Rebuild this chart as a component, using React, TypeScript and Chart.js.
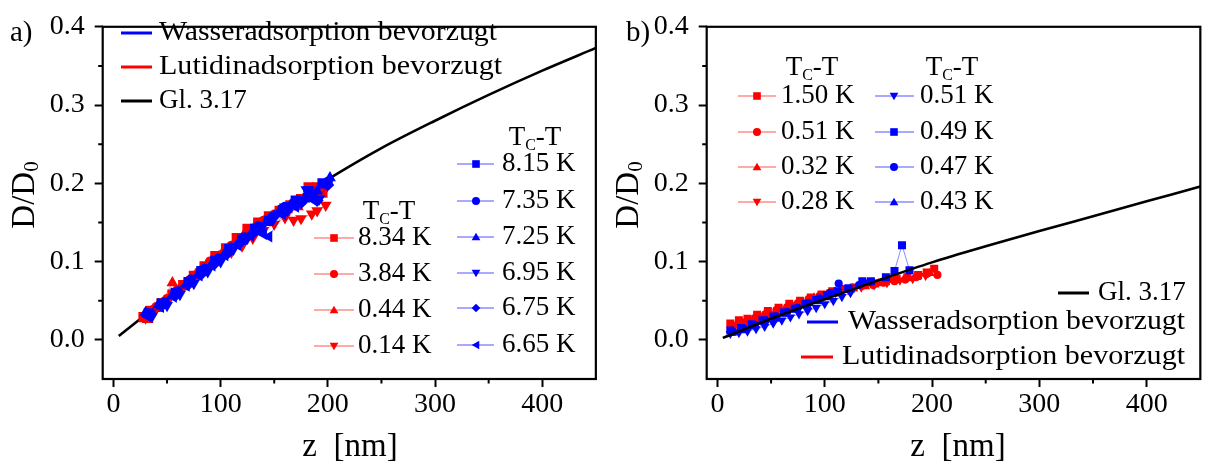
import React, { useEffect, useRef } from 'react';
import { Chart, registerables } from 'chart.js';

Chart.register(...registerables);

type Pt = [number, number];

const FONT = "'Liberation Serif', 'Times New Roman', serif";
const RED = '#ff0000';
const BLUE = '#0000ff';
const RED_LIGHT = 'rgba(255,0,0,0.45)';
const BLUE_LIGHT = 'rgba(0,0,255,0.45)';

// axis ticks
const X_TICKS = [0, 100, 200, 300, 400];
const X_MINOR = [50, 150, 250, 350];
const Y_TICKS = [0, 0.1, 0.2, 0.3, 0.4];
const Y_MINOR = [0.05, 0.15, 0.25, 0.35];

// Gl. 3.17 curves
const CURVE_A: Pt[] = [
  [5, 0.005], [50, 0.054], [100, 0.108], [150, 0.161], [200, 0.205], [250, 0.245],
  [300, 0.28], [350, 0.313], [400, 0.344], [450, 0.373],
];
const CURVE_B: Pt[] = [
  [5, 0.0025], [50, 0.027], [100, 0.052], [150, 0.076], [200, 0.099], [250, 0.1195],
  [300, 0.139], [350, 0.158], [400, 0.177], [450, 0.196],
];

// panel a, red (Lutidinadsorption bevorzugt)
const A_R_834: Pt[] = [[28, 0.029], [35, 0.037], [45, 0.047], [55, 0.058], [65, 0.07], [75, 0.082], [85, 0.094], [95, 0.107], [105, 0.117], [115, 0.13], [125, 0.142], [135, 0.15], [145, 0.158], [155, 0.165], [165, 0.172], [175, 0.18], [182, 0.195], [190, 0.195], [195, 0.188]];
const A_R_384: Pt[] = [[30, 0.031], [40, 0.042], [50, 0.052], [60, 0.064], [70, 0.075], [80, 0.087], [90, 0.1], [100, 0.108], [110, 0.12], [120, 0.13], [130, 0.14], [140, 0.152], [150, 0.16], [160, 0.168], [170, 0.175], [180, 0.182], [188, 0.19]];
const A_R_044: Pt[] = [[32, 0.026], [42, 0.04], [55, 0.073], [62, 0.066], [72, 0.078], [82, 0.09], [92, 0.102], [102, 0.112], [112, 0.122], [122, 0.135], [132, 0.145], [142, 0.155], [152, 0.162], [162, 0.166], [172, 0.17], [185, 0.185], [195, 0.193]];
const A_R_014: Pt[] = [[30, 0.028], [40, 0.04], [50, 0.05], [60, 0.062], [70, 0.072], [80, 0.084], [90, 0.096], [100, 0.105], [110, 0.112], [120, 0.12], [130, 0.13], [140, 0.14], [150, 0.148], [160, 0.156], [168, 0.153], [175, 0.155], [185, 0.161], [190, 0.165], [198, 0.172]];
// panel a, blue (Wasseradsorption bevorzugt)
const A_B_815: Pt[] = [[33, 0.034], [45, 0.046], [58, 0.06], [70, 0.074], [82, 0.088], [95, 0.101], [108, 0.116], [120, 0.128], [132, 0.142], [145, 0.152], [158, 0.166], [170, 0.178], [182, 0.19], [195, 0.2]];
const A_B_735: Pt[] = [[35, 0.033], [48, 0.048], [60, 0.062], [72, 0.077], [85, 0.091], [98, 0.104], [110, 0.118], [122, 0.131], [135, 0.145], [148, 0.157], [160, 0.17], [172, 0.178], [185, 0.185], [200, 0.202]];
const A_B_725: Pt[] = [[30, 0.035], [42, 0.045], [55, 0.057], [68, 0.072], [80, 0.086], [92, 0.098], [105, 0.113], [118, 0.127], [130, 0.14], [142, 0.15], [155, 0.165], [165, 0.172], [178, 0.18], [190, 0.19], [202, 0.207]];
const A_B_695: Pt[] = [[36, 0.03], [50, 0.044], [62, 0.058], [75, 0.072], [88, 0.087], [100, 0.1], [112, 0.116], [125, 0.13], [138, 0.142], [150, 0.156], [160, 0.17], [172, 0.176], [180, 0.192], [192, 0.18]];
const A_B_675: Pt[] = [[34, 0.032], [46, 0.045], [58, 0.057], [70, 0.071], [82, 0.084], [94, 0.097], [106, 0.11], [118, 0.124], [130, 0.136], [150, 0.158], [162, 0.165], [175, 0.175], [190, 0.178], [200, 0.198]];
const A_B_665: Pt[] = [[32, 0.03], [44, 0.042], [56, 0.055], [68, 0.069], [80, 0.082], [92, 0.095], [104, 0.108], [116, 0.121], [128, 0.133], [140, 0.135], [145, 0.132], [158, 0.16], [170, 0.17], [185, 0.18], [198, 0.2]];

// panel b, red
const B_R_150: Pt[] = [[12, 0.021], [20, 0.025], [28, 0.027], [37, 0.032], [47, 0.037], [57, 0.041], [67, 0.046], [77, 0.05], [87, 0.054], [97, 0.058], [107, 0.062], [117, 0.065], [127, 0.067], [137, 0.07], [147, 0.072], [157, 0.075], [167, 0.078], [177, 0.08], [187, 0.083], [195, 0.086], [202, 0.091]];
const B_R_051: Pt[] = [[15, 0.018], [25, 0.022], [35, 0.028], [45, 0.033], [55, 0.038], [65, 0.042], [75, 0.047], [85, 0.052], [95, 0.056], [105, 0.06], [115, 0.063], [125, 0.066], [135, 0.069], [145, 0.07], [155, 0.073], [165, 0.075], [175, 0.077], [185, 0.08], [195, 0.084], [205, 0.083]];
const B_R_032: Pt[] = [[18, 0.02], [30, 0.025], [42, 0.03], [54, 0.036], [66, 0.042], [78, 0.048], [90, 0.054], [102, 0.058], [114, 0.062], [126, 0.066], [138, 0.068], [150, 0.072], [162, 0.076], [174, 0.078], [186, 0.08], [198, 0.085]];
const B_R_028: Pt[] = [[14, 0.017], [26, 0.021], [38, 0.027], [50, 0.033], [62, 0.039], [74, 0.045], [86, 0.05], [98, 0.055], [110, 0.06], [122, 0.064], [134, 0.067], [146, 0.07], [158, 0.073], [170, 0.076], [182, 0.078], [194, 0.082]];
// panel b, blue
const B_B_051: Pt[] = [[12, 0.008], [20, 0.009], [28, 0.011], [36, 0.014], [44, 0.017], [52, 0.021], [60, 0.025], [68, 0.029], [76, 0.033], [84, 0.037], [92, 0.041], [100, 0.046], [108, 0.05], [116, 0.055], [124, 0.06]];
const B_B_049: Pt[] = [[12, 0.012], [22, 0.015], [32, 0.02], [42, 0.025], [52, 0.03], [62, 0.035], [72, 0.04], [82, 0.046], [92, 0.051], [102, 0.057], [112, 0.062], [122, 0.066], [135, 0.075], [143, 0.075], [157, 0.08], [165, 0.088], [172, 0.121], [179, 0.089]];
const B_B_047: Pt[] = [[15, 0.01], [25, 0.014], [35, 0.019], [45, 0.025], [55, 0.03], [65, 0.036], [75, 0.041], [85, 0.047], [95, 0.053], [105, 0.06], [113, 0.072], [122, 0.065], [132, 0.07], [142, 0.074]];
const B_B_043: Pt[] = [[14, 0.009], [24, 0.012], [34, 0.017], [44, 0.022], [54, 0.027], [64, 0.033], [74, 0.038], [84, 0.043], [94, 0.049], [104, 0.054], [114, 0.059], [124, 0.064]];

type Sym = 'square' | 'circle' | 'up' | 'down' | 'diamond' | 'left';
interface Series { label: string; data: Pt[]; red: boolean; sym: Sym; }

const SERIES_A_RED: Series[] = [
  { label: '8.34 K', data: A_R_834, red: true, sym: 'square' },
  { label: '3.84 K', data: A_R_384, red: true, sym: 'circle' },
  { label: '0.44 K', data: A_R_044, red: true, sym: 'up' },
  { label: '0.14 K', data: A_R_014, red: true, sym: 'down' },
];
const SERIES_A_BLUE: Series[] = [
  { label: '8.15 K', data: A_B_815, red: false, sym: 'square' },
  { label: '7.35 K', data: A_B_735, red: false, sym: 'circle' },
  { label: '7.25 K', data: A_B_725, red: false, sym: 'up' },
  { label: '6.95 K', data: A_B_695, red: false, sym: 'down' },
  { label: '6.75 K', data: A_B_675, red: false, sym: 'diamond' },
  { label: '6.65 K', data: A_B_665, red: false, sym: 'left' },
];
const SERIES_B_RED: Series[] = [
  { label: '1.50 K', data: B_R_150, red: true, sym: 'square' },
  { label: '0.51 K', data: B_R_051, red: true, sym: 'circle' },
  { label: '0.32 K', data: B_R_032, red: true, sym: 'up' },
  { label: '0.28 K', data: B_R_028, red: true, sym: 'down' },
];
const SERIES_B_BLUE: Series[] = [
  { label: '0.51 K', data: B_B_051, red: false, sym: 'down' },
  { label: '0.49 K', data: B_B_049, red: false, sym: 'square' },
  { label: '0.47 K', data: B_B_047, red: false, sym: 'circle' },
  { label: '0.43 K', data: B_B_043, red: false, sym: 'up' },
];

const LBL_WASSER = 'Wasseradsorption bevorzugt';
const LBL_LUTIDIN = 'Lutidinadsorption bevorzugt';
const LBL_GL = 'Gl. 3.17';

function pointStyleOf(sym: Sym): { style: any; rotation: number } {
  switch (sym) {
    case 'square': return { style: 'rect', rotation: 0 };
    case 'circle': return { style: 'circle', rotation: 0 };
    case 'up': return { style: 'triangle', rotation: 0 };
    case 'down': return { style: 'triangle', rotation: 180 };
    case 'diamond': return { style: 'rectRot', rotation: 0 };
    case 'left': return { style: 'triangle', rotation: 270 };
  }
}

function seriesDataset(s: Series, order: number, radius: number) {
  const ps = pointStyleOf(s.sym);
  const r = s.sym === 'square' ? radius * 1.05 : s.sym === 'circle' ? radius * 0.75 : s.sym === 'diamond' ? radius * 0.95 : radius;
  return {
    label: s.label,
    data: s.data.map(([x, y]) => ({ x, y })),
    showLine: true,
    borderColor: s.red ? RED_LIGHT : BLUE_LIGHT,
    borderWidth: 1,
    pointBackgroundColor: s.red ? RED : BLUE,
    pointBorderColor: s.red ? RED : BLUE,
    pointBorderWidth: 0,
    pointRadius: r,
    pointStyle: ps.style,
    rotation: ps.rotation,
    order,
  };
}

function drawSym(ctx: CanvasRenderingContext2D, sym: Sym, x: number, y: number, r: number, color: string) {
  ctx.save();
  ctx.fillStyle = color;
  ctx.beginPath();
  const t = r * 1.15;
  switch (sym) {
    case 'square': ctx.rect(x - r, y - r, 2 * r, 2 * r); break;
    case 'circle': ctx.arc(x, y, r * 1.05, 0, Math.PI * 2); break;
    case 'up': ctx.moveTo(x, y - t); ctx.lineTo(x + t, y + t * 0.75); ctx.lineTo(x - t, y + t * 0.75); break;
    case 'down': ctx.moveTo(x, y + t); ctx.lineTo(x + t, y - t * 0.75); ctx.lineTo(x - t, y - t * 0.75); break;
    case 'diamond': ctx.moveTo(x, y - t); ctx.lineTo(x + t, y); ctx.lineTo(x, y + t); ctx.lineTo(x - t, y); break;
    case 'left': ctx.moveTo(x - t, y); ctx.lineTo(x + t * 0.75, y - t); ctx.lineTo(x + t * 0.75, y + t); break;
  }
  ctx.closePath();
  ctx.fill();
  ctx.restore();
}

function drawText(ctx: CanvasRenderingContext2D, s: string, x: number, y: number, size: number, targetW?: number) {
  ctx.save();
  ctx.font = `${size}px ${FONT}`;
  ctx.fillStyle = '#000';
  ctx.textBaseline = 'middle';
  ctx.textAlign = 'left';
  ctx.translate(x, y);
  if (targetW) {
    const w = ctx.measureText(s).width;
    ctx.scale(targetW / w, 1);
  }
  ctx.fillText(s, 0, 0);
  ctx.restore();
}

function drawTcHeader(ctx: CanvasRenderingContext2D, cx: number, cy: number) {
  ctx.save();
  ctx.fillStyle = '#000';
  ctx.textBaseline = 'alphabetic';
  ctx.textAlign = 'left';
  const big = `27px ${FONT}`;
  const small = `16px ${FONT}`;
  ctx.font = big;
  const wT = ctx.measureText('T').width;
  const wR = ctx.measureText('-T').width;
  ctx.font = small;
  const wC = ctx.measureText('C').width;
  const total = wT + wC + wR;
  let x = cx - total / 2;
  const base = cy + 9;
  ctx.font = big;
  ctx.fillText('T', x, base);
  x += wT;
  ctx.font = small;
  ctx.fillText('C', x, base + 5);
  x += wC;
  ctx.font = big;
  ctx.fillText('-T', x, base);
  ctx.restore();
}

interface LineItem { label: string; color: string; y: number; x1: number; x2: number; tx: number; tw?: number; }
interface SymLegend { header: [number, number]; rows: number[]; x1: number; x2: number; sx: number; tx: number; series: Series[]; }
interface Decor {
  panel: string; panelPos: [number, number];
  lines: LineItem[];
  syms: SymLegend[];
  yTitle: [number, number];
  xTitle: [number, number];
}

function makeDecorPlugin(d: Decor) {
  return {
    id: 'decor',
    afterDraw(chart: any) {
      const ctx: CanvasRenderingContext2D = chart.ctx;
      const ca = chart.chartArea;
      const xs = chart.scales.x;
      const ys = chart.scales.y;
      ctx.save();
      // frame
      ctx.strokeStyle = '#000';
      ctx.lineWidth = 2.2;
      ctx.strokeRect(ca.left, ca.top, ca.right - ca.left, ca.bottom - ca.top);
      // minor ticks
      ctx.lineWidth = 2;
      ctx.beginPath();
      for (const v of X_MINOR) {
        const px = xs.getPixelForValue(v);
        ctx.moveTo(px, ca.bottom);
        ctx.lineTo(px, ca.bottom + 4.5);
      }
      for (const v of Y_MINOR) {
        const py = ys.getPixelForValue(v);
        ctx.moveTo(ca.left, py);
        ctx.lineTo(ca.left - 4.5, py);
      }
      ctx.stroke();
      ctx.restore();

      // panel label
      drawText(ctx, d.panel, d.panelPos[0], d.panelPos[1], 29);

      // axis titles
      ctx.save();
      ctx.fillStyle = '#000';
      ctx.translate(d.yTitle[0], d.yTitle[1]);
      ctx.rotate(-Math.PI / 2);
      ctx.textBaseline = 'middle';
      ctx.textAlign = 'left';
      ctx.font = `33px ${FONT}`;
      const w1 = ctx.measureText('D/D').width;
      ctx.font = `21px ${FONT}`;
      const w2 = ctx.measureText('0').width;
      const start = -(w1 + w2) / 2;
      ctx.font = `33px ${FONT}`;
      ctx.fillText('D/D', start, 0);
      ctx.font = `21px ${FONT}`;
      ctx.fillText('0', start + w1, 7);
      ctx.restore();

      ctx.save();
      ctx.fillStyle = '#000';
      ctx.font = `33px ${FONT}`;
      ctx.textAlign = 'center';
      ctx.textBaseline = 'middle';
      ctx.fillText('z  [nm]', d.xTitle[0], d.xTitle[1]);
      ctx.restore();

      // line legends
      for (const it of d.lines) {
        ctx.save();
        ctx.strokeStyle = it.color;
        ctx.lineWidth = 3;
        ctx.beginPath();
        ctx.moveTo(it.x1, it.y);
        ctx.lineTo(it.x2, it.y);
        ctx.stroke();
        ctx.restore();
        drawText(ctx, it.label, it.tx, it.y, 27, it.tw);
      }

      // symbol legends
      for (const lg of d.syms) {
        drawTcHeader(ctx, lg.header[0], lg.header[1]);
        lg.series.forEach((s, i) => {
          const y = lg.rows[i];
          ctx.save();
          ctx.strokeStyle = s.red ? RED_LIGHT : BLUE_LIGHT;
          ctx.lineWidth = 1.5;
          ctx.beginPath();
          ctx.moveTo(lg.x1, y);
          ctx.lineTo(lg.x2, y);
          ctx.stroke();
          ctx.restore();
          drawSym(ctx, s.sym, lg.sx, y, 3.8, s.red ? RED : BLUE);
          drawText(ctx, s.label, lg.tx, y, 27);
        });
      }
    },
  };
}

interface PanelCfg {
  curve: Pt[];
  red: Series[];
  blue: Series[];
  curveOnTop: boolean;
  radius: number;
  pad: { top: number; right: number };
  yWidth: number;
  decor: Decor;
}

const PANEL_A: PanelCfg = {
  curve: CURVE_A,
  red: SERIES_A_RED,
  blue: SERIES_A_BLUE,
  curveOnTop: false,
  radius: 6.8,
  pad: { top: 14.5, right: 4.7 },
  yWidth: 102.7,
  decor: {
    panel: 'a)', panelPos: [10, 33],
    lines: [
      { label: LBL_WASSER, color: BLUE, y: 33, x1: 121, x2: 152, tx: 159, tw: 338 },
      { label: LBL_LUTIDIN, color: RED, y: 67, x1: 121, x2: 152, tx: 159, tw: 343 },
      { label: LBL_GL, color: '#000', y: 101, x1: 121, x2: 152, tx: 159 },
    ],
    syms: [
      { header: [389, 210], rows: [238, 274, 310, 346], x1: 314, x2: 354, sx: 334, tx: 358, series: SERIES_A_RED },
      { header: [535, 136], rows: [164, 201, 237, 273, 308, 345], x1: 457, x2: 494, sx: 476, tx: 502, series: SERIES_A_BLUE },
    ],
    yTitle: [25, 195],
    xTitle: [350, 447],
  },
};

const PANEL_B: PanelCfg = {
  curve: CURVE_B,
  red: SERIES_B_RED,
  blue: SERIES_B_BLUE,
  curveOnTop: true,
  radius: 5.4,
  pad: { top: 14.3, right: 3.7 },
  yWidth: 103.7,
  decor: {
    panel: 'b)', panelPos: [23, 33],
    lines: [
      { label: LBL_GL, color: '#000', y: 293, x1: 455, x2: 486, tx: 495 },
      { label: LBL_WASSER, color: BLUE, y: 322, x1: 204, x2: 235, tx: 245, tw: 337 },
      { label: LBL_LUTIDIN, color: RED, y: 357, x1: 198, x2: 230, tx: 239, tw: 343 },
    ],
    syms: [
      { header: [209, 66], rows: [96, 132, 167, 202], x1: 135, x2: 173, sx: 154, tx: 178, series: SERIES_B_RED },
      { header: [349, 66], rows: [96, 132, 167, 202], x1: 272, x2: 311, sx: 291, tx: 317, series: SERIES_B_BLUE },
    ],
    yTitle: [26, 195],
    xTitle: [355, 447],
  },
};

function buildChart(canvas: HTMLCanvasElement, p: PanelCfg) {
  const datasets: any[] = [];
  datasets.push({
    label: LBL_GL,
    data: p.curve.map(([x, y]) => ({ x, y })),
    showLine: true,
    borderColor: '#000',
    borderWidth: 2.6,
    pointRadius: 0,
    cubicInterpolationMode: 'monotone',
    order: p.curveOnTop ? 0 : 10,
  });
  p.blue.forEach((s) => datasets.push(seriesDataset(s, 2, p.radius)));
  p.red.forEach((s) => datasets.push(seriesDataset(s, 4, p.radius)));

  const tickFont = { family: FONT, size: 28 };
  return new Chart(canvas, {
    type: 'scatter',
    data: { datasets },
    options: {
      animation: false,
      responsive: false,
      maintainAspectRatio: false,
      layout: { padding: { left: 0, top: p.pad.top, right: p.pad.right, bottom: 0 } },
      plugins: { legend: { display: false }, tooltip: { enabled: false }, title: { display: false } },
      scales: {
        x: {
          type: 'linear',
          min: -10,
          max: 450,
          afterBuildTicks: (s: any) => { s.ticks = X_TICKS.map((v) => ({ value: v })); },
          afterFit: (s: any) => { s.height = 88; },
          border: { display: false },
          grid: { display: true, drawOnChartArea: false, drawTicks: true, tickLength: 8, tickWidth: 2, tickColor: '#000' },
          ticks: { font: tickFont, color: '#000', padding: 1, maxRotation: 0, autoSkip: false, callback: (v: any) => String(v) },
        },
        y: {
          type: 'linear',
          min: -0.05,
          max: 0.4,
          afterBuildTicks: (s: any) => { s.ticks = Y_TICKS.map((v) => ({ value: v })); },
          afterFit: (s: any) => { s.width = p.yWidth; },
          border: { display: false },
          grid: { display: true, drawOnChartArea: false, drawTicks: true, tickLength: 8, tickWidth: 2, tickColor: '#000' },
          ticks: { font: tickFont, color: '#000', padding: 10, autoSkip: false, callback: (v: any) => Number(v).toFixed(1) },
        },
      },
    } as any,
    plugins: [makeDecorPlugin(p.decor)],
  });
}

function Panel({ cfg }: { cfg: PanelCfg }) {
  const ref = useRef<HTMLCanvasElement | null>(null);
  useEffect(() => {
    if (!ref.current) return;
    const ch = buildChart(ref.current, cfg);
    return () => ch.destroy();
  }, [cfg]);
  return <canvas ref={ref} width={603} height={467} style={{ width: 603, height: 467, display: 'block' }} />;
}

export default function App() {
  return (
    <div style={{ position: 'absolute', left: 0, top: 0, width: 1206, height: 467, display: 'flex', background: '#fff' }}>
      <Panel cfg={PANEL_A} />
      <Panel cfg={PANEL_B} />
    </div>
  );
}
